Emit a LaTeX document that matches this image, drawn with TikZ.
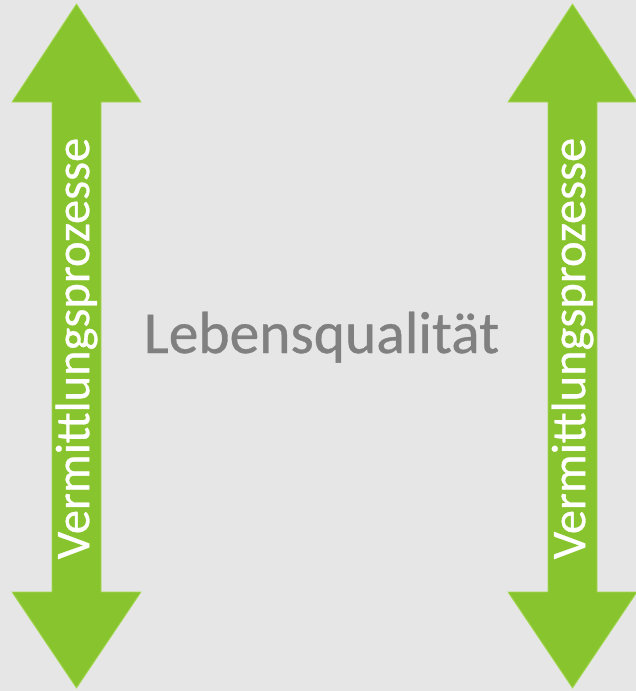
\documentclass[tikz,border=0pt]{standalone}
\usepackage{fontspec}
\setmainfont{Carlito}
\newfontfamily\lblfont{Carlito}[FakeBold=0.6]
\definecolor{bg}{RGB}{230,230,230}
\definecolor{grn}{RGB}{136,196,46}
\definecolor{grnedge}{RGB}{165,215,85}
\definecolor{txtgray}{RGB}{128,128,128}
\begin{document}
\begin{tikzpicture}[x=1pt,y=-1pt,
  arrowshape/.style={fill=grn,draw=grnedge,line width=0.8pt,line join=miter},
  vlabel/.style={rotate=90,text=white,inner sep=0pt,font=\lblfont\fontsize{48.5}{50}\selectfont},
  mainlabel/.style={text=txtgray,inner sep=0pt,font=\lblfont\fontsize{59.5}{62}\selectfont}]
\fill[bg] (0,0) rectangle (636,691);
\useasboundingbox (0,0) rectangle (636,691);
% left double arrow
\path[arrowshape] (76.5,4) -- (12,102) -- (52,102) -- (52,592) -- (12,592)
  -- (76.5,688) -- (141,592) -- (101,592) -- (101,102) -- (141,102) -- cycle;
% right double arrow
\path[arrowshape] (572.5,4) -- (508,102) -- (548,102) -- (548,592) -- (508,592)
  -- (572.5,688) -- (637,592) -- (597,592) -- (597,102) -- (637,102) -- cycle;
\node[vlabel] (vl) at (76.5,348.5) {Vermittlungsprozesse};
\node[vlabel] (vr) at (572.5,348.5) {Vermittlungsprozesse};
\node[mainlabel,anchor=base] (lq) at (321.5,353) {Lebensqualität};
\end{tikzpicture}
\end{document}
